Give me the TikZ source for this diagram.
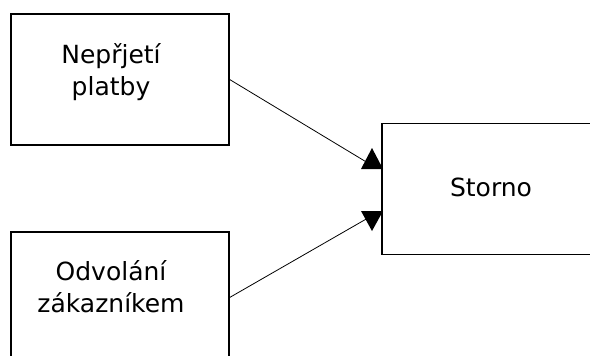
\documentclass[tikz,border=0pt]{standalone}
\usepackage{fontspec}
\setmainfont{DejaVu Sans}
\begin{document}
\begin{tikzpicture}[x=1pt,y=-1pt,
  box/.style={draw=black,line width=1.3pt,fill=white,minimum width=218pt,minimum height=131pt,inner sep=0pt,anchor=center},
  lbl/.style={font=\fontsize{25}{32}\selectfont,align=center,inner sep=0pt},
  conn/.style={draw=black,line width=0.8pt},
  tip/.style={fill=black,draw=none}]
\useasboundingbox (0,0) rectangle (590,356);
\clip (0,0) rectangle (590,356);
\fill[white] (0,0) rectangle (590,356);
\node[box] (b1) at (120,79.5) {};
\node[box] (b2) at (120,297.5) {};
\node[box] (b3) at (491,189) {};
\node[lbl] (t1) at (111,72) {Nepřjetí\\platby};
\node[lbl] (t2) at (111,287) {Odvolání\\zákazníkem};
\node[lbl] (t3) at (491,187) {Storno};
\coordinate (a1) at (368,163);
\coordinate (a2) at (368,218);
\draw[conn] (b1.east) -- (a1);
\draw[conn] (b2.east) -- (a2);
\fill[tip] (361,169) -- (372,148) -- (383,169) -- cycle;
\fill[tip] (361,211) -- (372,231) -- (383,211) -- cycle;
\end{tikzpicture}
\end{document}
